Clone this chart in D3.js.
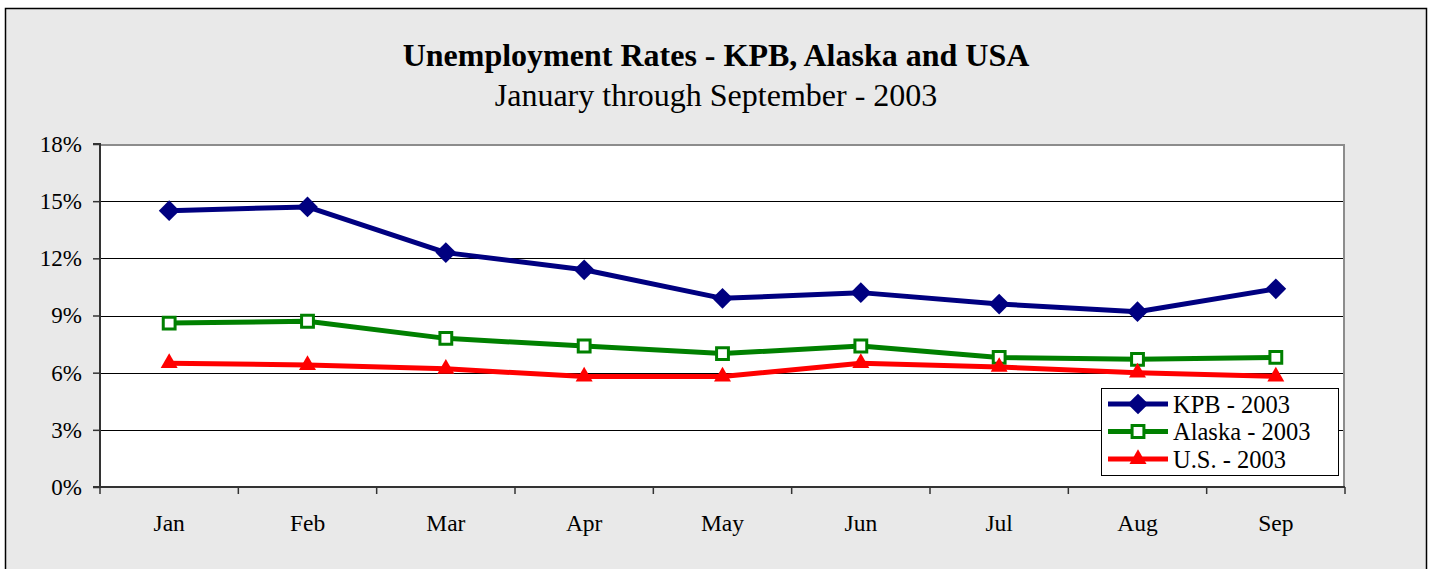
<!DOCTYPE html>
<html>
<head>
<meta charset="utf-8">
<script src="https://cdn.jsdelivr.net/npm/d3@7"></script>
<style>
  body { margin: 0; background: #ffffff; }
  text { font-family: "Liberation Serif", "Times New Roman", serif; fill: #000; }
</style>
</head>
<body>
<div class="visHolder"></div>
<script>
// chart values
var months = ['Jan', 'Feb', 'Mar', 'Apr', 'May', 'Jun', 'Jul', 'Aug', 'Sep'];
var kpb = [14.5, 14.7, 12.3, 11.4, 9.9, 10.2, 9.6, 9.2, 10.4];
var alaska = [8.6, 8.7, 7.8, 7.4, 7.0, 7.4, 6.8, 6.7, 6.8];
var usa = [6.5, 6.4, 6.2, 5.8, 5.8, 6.5, 6.3, 6.0, 5.8];
var yTicks = [0, 3, 6, 9, 12, 15, 18];
var seriesNames = ['KPB - 2003', 'Alaska - 2003', 'U.S. - 2003'];

var width = 1431,
  height = 569;
var plot = { left: 100, right: 1345, top: 144, bottom: 487 };

var series = [
  { name: seriesNames[0], values: kpb, color: '#000080', marker: 'diamond' },
  { name: seriesNames[1], values: alaska, color: '#008000', marker: 'square' },
  { name: seriesNames[2], values: usa, color: '#ff0000', marker: 'triangle' }
];

var svg = d3.select('.visHolder').append('svg').attr('width', width).attr('height', height);

// chart frame
svg.append('rect')
  .attr('x', 5.5).attr('y', 8.5)
  .attr('width', 1421).attr('height', 600)
  .attr('fill', '#e9e9e9')
  .attr('stroke', '#000').attr('stroke-width', 1.5);

svg.append('text')
  .attr('x', 716).attr('y', 66)
  .attr('text-anchor', 'middle')
  .style('font-size', '32px').style('font-weight', 'bold')
  .text('Unemployment Rates - KPB, Alaska and USA');

svg.append('text')
  .attr('x', 716).attr('y', 106)
  .attr('text-anchor', 'middle')
  .style('font-size', '32px')
  .text('January through September - 2003');

var xScale = d3.scaleBand().domain(months).range([plot.left, plot.right]);
var yScale = d3.scaleLinear().domain([0, 18]).range([plot.bottom, plot.top]);

// plot area
svg.append('rect')
  .attr('x', plot.left).attr('y', plot.top)
  .attr('width', plot.right - plot.left).attr('height', plot.bottom - plot.top)
  .attr('fill', '#ffffff');

svg.append('g')
  .selectAll('line')
  .data(yTicks.filter(d => d > 0 && d < 18))
  .enter()
  .append('line')
  .attr('x1', plot.left).attr('x2', plot.right)
  .attr('y1', d => Math.round(yScale(d)) + 0.5)
  .attr('y2', d => Math.round(yScale(d)) + 0.5)
  .attr('stroke', '#000').attr('stroke-width', 1);

// grey border top and right
svg.append('path')
  .attr('d', 'M' + plot.left + ',' + (plot.top + 1) + 'H' + (plot.right - 1) + 'V' + plot.bottom)
  .attr('fill', 'none').attr('stroke', '#8c8c8c').attr('stroke-width', 2);

var yAxis = d3.axisLeft(yScale).tickValues(yTicks).tickFormat(d => d + '%').tickSize(7).tickPadding(11);
var yG = svg.append('g').attr('transform', 'translate(' + plot.left + ',0)').call(yAxis);
yG.select('.domain').attr('stroke', '#333').attr('stroke-width', 2).attr('d', 'M-7,' + plot.top + 'H0V' + plot.bottom + 'H-7');
yG.selectAll('.tick line').attr('stroke', '#333').attr('stroke-width', 1.5);
yG.selectAll('.tick text').style('font-size', '23px').style('font-family', '"Liberation Serif", serif').attr('fill', '#000');

// x axis: ticks sit between categories
var xG = svg.append('g').attr('transform', 'translate(0,' + plot.bottom + ')');
xG.append('line')
  .attr('x1', plot.left - 7).attr('x2', plot.right)
  .attr('stroke', '#333').attr('stroke-width', 2);
xG.selectAll('.xtick')
  .data(months.concat(['end']))
  .enter()
  .append('line')
  .attr('class', 'xtick')
  .attr('x1', (d, i) => i < months.length ? xScale(d) : plot.right)
  .attr('x2', (d, i) => i < months.length ? xScale(d) : plot.right)
  .attr('y1', 0).attr('y2', 7)
  .attr('stroke', '#333').attr('stroke-width', 1.5);
xG.selectAll('.xlabel')
  .data(months)
  .enter()
  .append('text')
  .attr('class', 'xlabel')
  .attr('x', d => xScale(d) + xScale.bandwidth() / 2)
  .attr('y', 36)
  .attr('dy', '.35em')
  .attr('text-anchor', 'middle')
  .style('font-size', '23.5px')
  .text(d => d);

function markerPath(type) {
  if (type === 'diamond') return d3.symbol(d3.symbolSquare, 215)();
  if (type === 'square') return d3.symbol(d3.symbolSquare, 140)();
  return d3.symbol(d3.symbolTriangle, 125)();
}

function styleMarker(sel, s) {
  sel.attr('d', markerPath(s.marker))
    .attr('fill', s.marker === 'square' ? '#ffffff' : s.color)
    .attr('stroke', s.color)
    .attr('stroke-width', s.marker === 'square' ? 3 : 0);
}

var line = d3.line()
  .x((d, i) => xScale(months[i]) + xScale.bandwidth() / 2)
  .y(d => yScale(d));

series.forEach(function (s) {
  var g = svg.append('g');
  g.append('path')
    .attr('d', line(s.values))
    .attr('fill', 'none')
    .attr('stroke', s.color)
    .attr('stroke-width', 5)
    .attr('stroke-linejoin', 'round');
  g.selectAll('.mark')
    .data(s.values)
    .enter()
    .append('path')
    .attr('class', 'mark')
    .attr('transform', (d, i) => 'translate(' + (xScale(months[i]) + xScale.bandwidth() / 2) + ',' + yScale(d) + ')' + (s.marker === 'diamond' ? ' rotate(45)' : ''))
    .call(styleMarker, s);
});

// legend
var legendContainer = svg.append('g').attr('id', 'legend');
legendContainer.append('rect')
  .attr('x', 1101.5).attr('y', 388.5)
  .attr('width', 237).attr('height', 87)
  .attr('fill', '#ffffff').attr('stroke', '#000').attr('stroke-width', 1);

var legend = legendContainer.selectAll('.legend-label')
  .data(series)
  .enter()
  .append('g')
  .attr('class', 'legend-label')
  .attr('transform', (d, i) => 'translate(1108,' + (404 + i * 27.5) + ')');

legend.append('line')
  .attr('x1', 0).attr('x2', 60)
  .attr('stroke', d => d.color).attr('stroke-width', 5);

legend.append('path')
  .attr('transform', d => 'translate(30,0)' + (d.marker === 'diamond' ? ' rotate(45)' : ''))
  .each(function (d) { d3.select(this).call(styleMarker, d); });

legend.append('text')
  .attr('x', 65)
  .attr('dy', '.35em')
  .style('font-size', '24.5px')
  .text(d => d.name);
</script>
</body>
</html>
